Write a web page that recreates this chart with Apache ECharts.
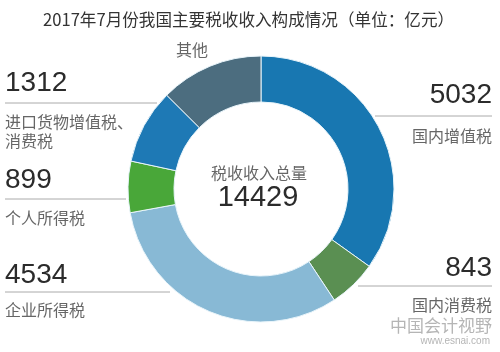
<!DOCTYPE html>
<html>
<head>
<meta charset="utf-8">
<title></title>
<style>
* { margin: 0; padding: 0; }
html, body { width: 100%; height: 100%; background: #fff; }
#main { width: 500px; height: 352px; }
</style>
</head>
<body>
<div id="main"></div>
<script src="https://cdn.jsdelivr.net/npm/echarts@6/dist/echarts.min.js"></script>
<script>
var taxNames = ['国内增值税', '国内消费税', '企业所得税', '个人所得税', '进口货物增值税、消费税', '其他']
var taxValues = [5032, 843, 4534, 899, 1312, 1809]
var taxColors = ['#1877b1', '#5a8f52', '#88b9d5', '#49a739', '#1e79b5', '#4c6d7f']
var totalLabel = '税收收入总量'
var totalValue = 14429

var cjk = '"Noto Sans CJK SC", sans-serif'
var num = '"Liberation Sans", Arial, sans-serif'

// label layout: number position, rule line, caption lines
var labelLayout = [
	{ side: 'right', nx: 492, ny: 95, line: [375, 116, 492], cy: [136] },
	{ side: 'right', nx: 492, ny: 268, line: [358, 286, 492], cy: [305] },
	{ side: 'left', nx: 5, ny: 275, line: [5, 292, 170], cy: [310] },
	{ side: 'left', nx: 5, ny: 180, line: [5, 199, 126], cy: [218] },
	{ side: 'left', nx: 5, ny: 83, line: [5, 103, 157], cy: [122, 141], split: ['进口货物增值税、', '消费税'] },
	{ side: 'none', cx: 192, cy: [50] }
]

var graphics = []
for (let i = 0; i < taxNames.length; i++) {
	let l = labelLayout[i]
	if (l.side == 'none') {
		graphics.push({ type: 'text', x: l.cx, y: l.cy[0], style: {
			text: taxNames[i], font: '16px ' + cjk, fill: '#666', textAlign: 'center', textVerticalAlign: 'middle' } })
		continue
	}
	graphics.push({ type: 'text', x: l.nx, y: l.ny, style: {
		text: String(taxValues[i]), font: '28px ' + num, fill: '#2b2b2b', textAlign: l.side, textVerticalAlign: 'middle' } })
	graphics.push({ type: 'line', shape: { x1: l.line[0], y1: l.line[1], x2: l.line[2], y2: l.line[1] },
		style: { stroke: '#aaa', lineWidth: 1 } })
	let caps = l.split || [taxNames[i]]
	for (let j = 0; j < caps.length; j++) {
		graphics.push({ type: 'text', x: l.nx, y: l.cy[j], style: {
			text: caps[j], font: '16px ' + cjk, fill: '#666', textAlign: l.side, textVerticalAlign: 'middle' } })
	}
}
graphics.push({ type: 'text', x: 259, y: 173, style: {
	text: totalLabel, font: '16px ' + cjk, fill: '#666', textAlign: 'center', textVerticalAlign: 'middle' } })
graphics.push({ type: 'text', x: 258, y: 198, style: {
	text: String(totalValue), font: '29px ' + num, fill: '#2b2b2b', textAlign: 'center', textVerticalAlign: 'middle' } })
// watermark
graphics.push({ type: 'text', x: 492, y: 326, style: {
	text: '中国会计视野', font: '17px ' + cjk, fill: '#b5b5b5', textAlign: 'right', textVerticalAlign: 'middle' } })
graphics.push({ type: 'text', x: 490, y: 341, style: {
	text: 'www.esnai.com', font: '10px ' + num, fill: '#b5b5b5', textAlign: 'right', textVerticalAlign: 'middle' } })

var pieData = []
for (let i = 0; i < taxNames.length; i++) {
	pieData.push({ name: taxNames[i], value: taxValues[i], itemStyle: { color: taxColors[i] } })
}

var myChart = echarts.init(document.getElementById('main'))
var option = {
	animation: false,
	title: {
		text: '2017年7月份我国主要税收收入构成情况（单位：亿元）',
		left: 38,
		top: 6,
		textStyle: { fontFamily: cjk, fontSize: 16.6, fontWeight: 'normal', color: '#333' }
	},
	series: [{
		type: 'pie',
		center: [261, 189],
		radius: [87, 133],
		startAngle: 90,
		clockwise: true,
		label: { show: false },
		labelLine: { show: false },
		itemStyle: { borderColor: '#e8f4fa', borderWidth: 1 },
		data: pieData
	}],
	graphic: graphics
}
myChart.setOption(option)
</script>
</body>
</html>
